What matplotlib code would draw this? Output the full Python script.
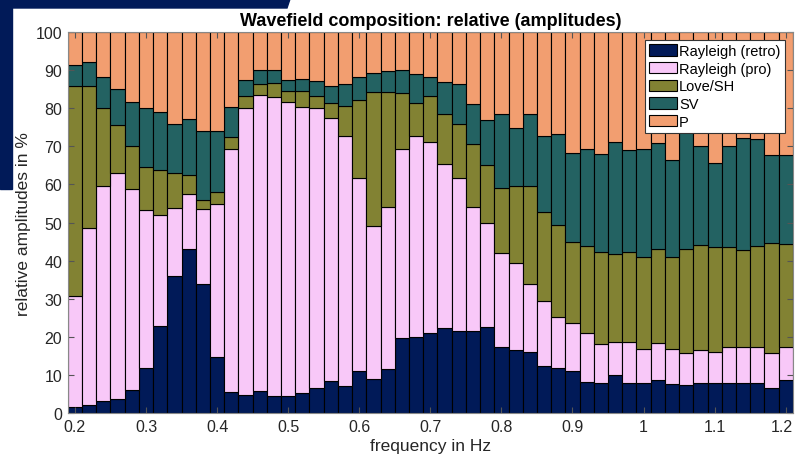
import numpy as np
import matplotlib
matplotlib.use("Agg")
import matplotlib.pyplot as plt
from matplotlib.patches import Polygon
from matplotlib.transforms import ScaledTranslation

plt.rcParams['font.family'] = ['Liberation Sans', 'DejaVu Sans']

# frequency bins (Hz)
freq = np.linspace(0.2, 1.2, 51)

# shares in % per wave type
rayleigh_retro = [1.7, 2.2, 3.3, 3.7, 6.2, 12.0, 23.0, 36.0, 43.1, 33.8,
                  14.7, 5.5, 4.9, 5.9, 4.6, 4.6, 5.3, 6.8, 8.6, 7.2,
                  11.0, 9.0, 11.7, 19.7, 20.0, 21.2, 22.3, 21.5, 21.5, 22.7,
                  17.3, 16.6, 16.0, 12.5, 12.0, 11.0, 8.3, 7.9, 10.0, 7.9,
                  7.9, 8.8, 7.8, 7.5, 8.1, 7.9, 7.9, 8.1, 8.1, 6.8, 8.8]
rayleigh_pro = [29.1, 46.3, 56.2, 59.4, 52.6, 41.4, 29.1, 17.8, 14.5, 19.7,
                40.3, 63.9, 75.0, 77.6, 78.4, 76.9, 75.0, 73.3, 68.8, 65.6,
                50.7, 40.2, 42.5, 49.6, 52.8, 50.0, 43.0, 40.1, 32.6, 27.2,
                24.7, 22.7, 17.9, 17.0, 13.4, 12.7, 12.7, 10.2, 8.6, 10.9,
                9.1, 9.6, 9.0, 8.3, 8.5, 8.1, 9.6, 9.4, 9.4, 9.1, 8.5]
love_sh = [54.9, 37.2, 20.4, 12.4, 11.3, 11.2, 11.8, 9.3, 4.9, 2.3,
           3.0, 3.1, 3.2, 2.7, 3.5, 3.0, 4.2, 3.1, 3.9, 7.7,
           20.3, 35.1, 30.1, 14.7, 8.5, 12.0, 13.2, 14.3, 16.4, 15.2,
           17.0, 20.4, 25.6, 23.3, 24.0, 21.1, 22.8, 24.3, 23.1, 23.6,
           24.1, 24.8, 24.3, 27.4, 27.6, 27.7, 26.2, 25.3, 26.4, 28.8, 27.2]
sv = [5.7, 6.3, 8.3, 9.5, 11.4, 15.5, 15.1, 12.8, 14.6, 18.1,
      16.1, 7.8, 4.3, 3.7, 3.4, 2.9, 3.2, 4.0, 4.4, 5.7,
      6.1, 5.0, 5.4, 5.9, 7.6, 5.0, 8.2, 10.3, 10.5, 11.8,
      19.5, 15.2, 19.0, 20.0, 23.8, 23.3, 25.5, 25.5, 29.3, 26.5,
      28.2, 27.6, 25.2, 31.8, 25.8, 21.9, 26.3, 29.3, 27.9, 23.1, 23.1]
p_wave = [8.6, 8.0, 11.8, 15.0, 18.5, 19.9, 21.0, 24.1, 22.9, 26.1,
          25.9, 19.7, 12.6, 10.1, 10.1, 12.6, 12.3, 12.8, 14.3, 13.8,
          11.9, 10.7, 10.3, 10.1, 11.1, 11.8, 13.3, 13.8, 19.0, 23.1,
          21.5, 25.1, 21.5, 27.2, 26.8, 31.9, 30.7, 32.1, 29.0, 31.1,
          30.7, 29.2, 33.7, 25.0, 30.0, 34.4, 30.0, 27.9, 28.2, 32.2, 32.4]

labels = ['Rayleigh (retro)', 'Rayleigh (pro)', 'Love/SH', 'SV', 'P']
colors = ['#011a58', '#f8c8f8', '#828233', '#236262', '#f29e70']
series = [rayleigh_retro, rayleigh_pro, love_sh, sv, p_wave]

fig = plt.figure(figsize=(7.95, 4.64), dpi=100)

# slide decoration in the corner
navy = '#011a58'
fig.patches.append(Polygon([[0, 1], [290 / 795, 1], [287 / 795, 1 - 9 / 464], [0, 1 - 9 / 464]],
                           closed=True, transform=fig.transFigure, color=navy, zorder=0))
fig.patches.append(Polygon([[0, 1], [12 / 795, 1], [12 / 795, 1 - 190 / 464], [0, 1 - 190 / 464]],
                           closed=True, transform=fig.transFigure, color=navy, zorder=0))

ax = fig.add_axes([0.0853, 0.1067, 0.912, 0.8228])

bottom = np.zeros(len(freq))
for vals, lab, col in zip(series, labels, colors):
    vals = np.array(vals)
    ax.bar(freq, vals, width=0.02, bottom=bottom, color=col, edgecolor='black',
           linewidth=0.8, label=lab)
    bottom += vals

ax.set_xlim(0.19, 1.21)
ax.set_ylim(0, 100)
ax.set_xticks(np.arange(0.2, 1.21, 0.1))
ax.set_xticklabels(['0.2', '0.3', '0.4', '0.5', '0.6', '0.7', '0.8', '0.9', '1', '1.1', '1.2'])
ax.set_yticks(np.arange(0, 101, 10))
ax.tick_params(direction='in', top=True, right=True, labelsize=11.5, length=4,
               color='#555555', labelcolor='#262626', pad=4)
for s in ax.spines.values():
    s.set_color('#888888')
    s.set_linewidth(0.8)

# last label sits at the right edge, nudge it in a bit
last = ax.get_xticklabels()[-1]
last.set_transform(last.get_transform() + ScaledTranslation(-4 / 100, 0, fig.dpi_scale_trans))

ax.set_title('Wavefield composition: relative (amplitudes)', fontsize=13,
             fontweight='bold', pad=5)
ax.set_xlabel('frequency in Hz', fontsize=12.5, color='#262626', labelpad=3)
ax.set_ylabel('relative amplitudes in %', fontsize=12.5, color='#262626', labelpad=3)

leg = ax.legend(loc='upper right', fontsize=10.5, fancybox=False, framealpha=1,
                edgecolor='#333333', borderpad=0.3, labelspacing=0.25,
                handlelength=1.9, handleheight=0.8, handletextpad=0.15,
                borderaxespad=0.55)
leg.get_frame().set_linewidth(0.8)

fig.savefig('out.png', dpi=100)
